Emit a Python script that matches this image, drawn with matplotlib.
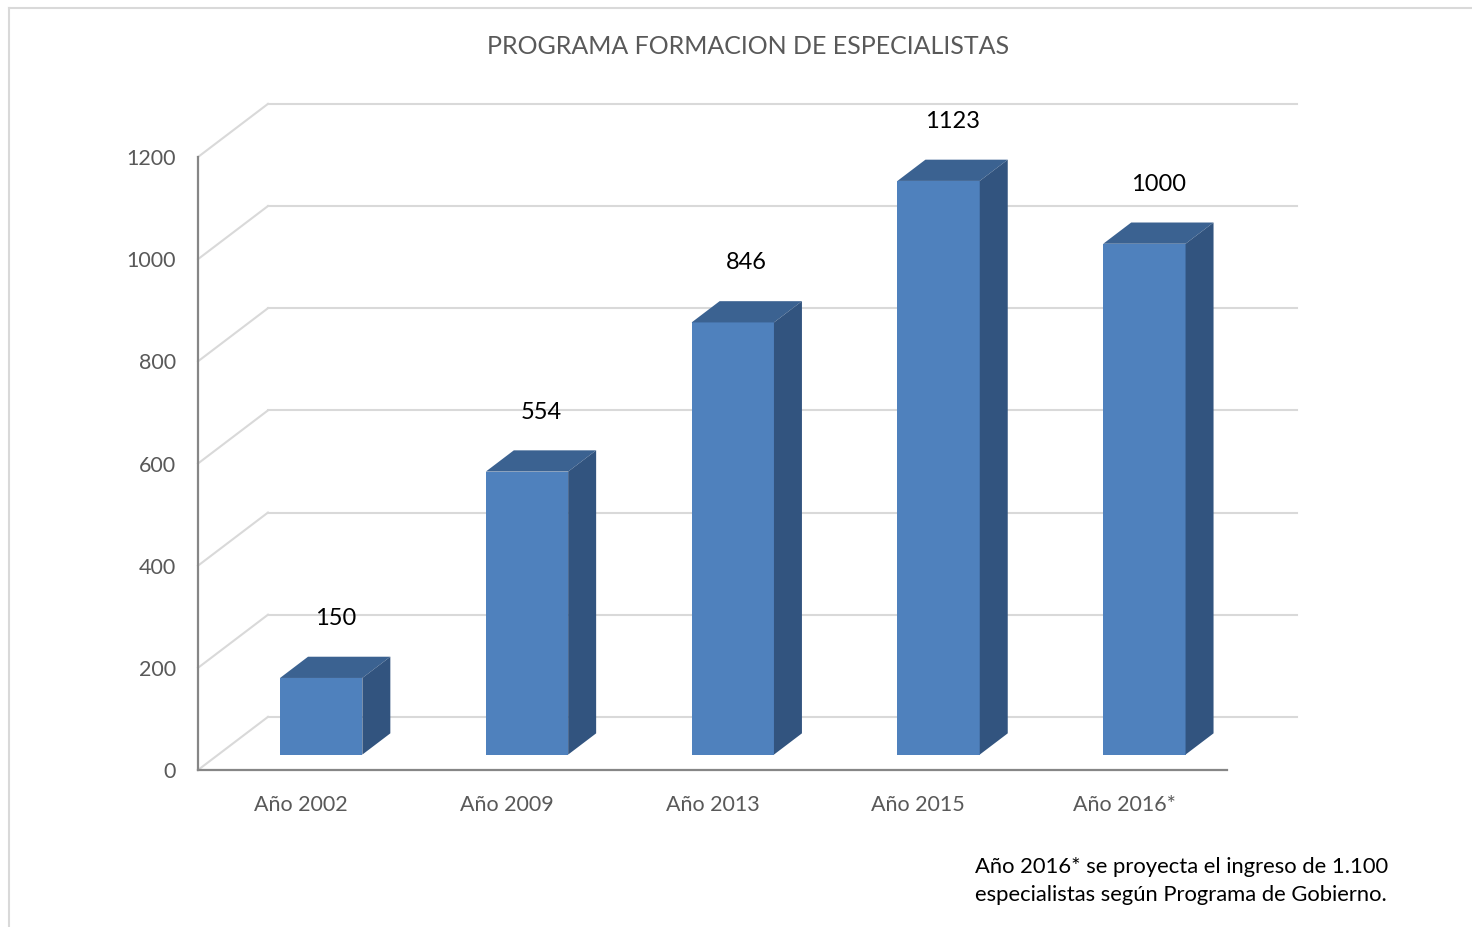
import numpy as np
import matplotlib
matplotlib.use('Agg')
import matplotlib.pyplot as plt
from matplotlib.patches import Polygon
from matplotlib.lines import Line2D

# ---------------- data ----------------
categories = ['Año 2002', 'Año 2009', 'Año 2013', 'Año 2015', 'Año 2016*']
values = [150, 554, 846, 1123, 1000]
yticks = [0, 200, 400, 600, 800, 1000, 1200]
title = 'PROGRAMA FORMACION DE ESPECIALISTAS'
note = 'Año 2016* se proyecta el ingreso de 1.100\nespecialistas según Programa de Gobierno.'

# ---------------- style ----------------
plt.rcParams['font.family'] = ['Lato', 'DejaVu Sans']
c_front, c_side, c_top = '#4F81BD', '#32547F', '#3B6291'
c_grid, c_axis, c_text = '#D9D9D9', '#868686', '#595959'
dx, dy = 0.34, 104.0       # depth of the floor (oblique projection, data units)
f0, f1 = 0.29, 0.69        # bar depth start/end as fraction of floor depth
bw = 0.40                  # bar width
ymax = yticks[-1]

fig = plt.figure(figsize=(14.72, 9.27), dpi=100)
ax = fig.add_axes([198/1472, 157/927, 1029/1472, 613/927])
x = np.arange(len(categories))
ax.set_xlim(-0.5, len(categories) - 0.5)
ax.set_ylim(0, ymax)
x0, x1 = -0.5, len(categories) - 0.5

# back wall and side wall grid
for t in yticks:
    ax.plot([x0 + dx, x1 + dx], [t + dy, t + dy], color=c_grid, lw=1.5,
            clip_on=False, zorder=1)
    ax.plot([x0, x0 + dx], [t, t + dy], color=c_grid, lw=1.5,
            clip_on=False, zorder=1)

# front axis lines
ax.plot([x0, x0], [0, ymax], color=c_axis, lw=1.6, clip_on=False, zorder=2)
ax.plot([x0, x1], [0, 0], color=c_axis, lw=1.6, clip_on=False, zorder=2)

# bars: front face through ax.bar, top and side from the same data
ox, oy = f0 * dx, f0 * dy
ddx, ddy = (f1 - f0) * dx, (f1 - f0) * dy
ax.bar(x + ox, values, width=bw, bottom=oy, color=c_front, zorder=3,
       clip_on=False)
for xi, v in zip(x, values):
    l, r = xi + ox - bw / 2, xi + ox + bw / 2
    b, t = oy, oy + v
    top = Polygon([(l, t), (r, t), (r + ddx, t + ddy), (l + ddx, t + ddy)],
                  closed=True, fc=c_top, ec='none', zorder=3, clip_on=False)
    side = Polygon([(r, b), (r + ddx, b + ddy), (r + ddx, t + ddy), (r, t)],
                   closed=True, fc=c_side, ec='none', zorder=3, clip_on=False)
    ax.add_patch(top)
    ax.add_patch(side)
    ax.text(xi + ox + ddx / 2, t + ddy + 75, f'{v}', ha='center',
            va='center', fontsize=17, color='black', zorder=4)

# axes ticks
for s in ax.spines.values():
    s.set_visible(False)
ax.set_xticks(x)
ax.set_xticklabels(categories)
ax.set_yticks(yticks)
ax.tick_params(axis='both', length=0, colors=c_text, labelsize=15.5)
ax.tick_params(axis='y', pad=16)
ax.tick_params(axis='x', pad=18)
ax.patch.set_visible(False)

fig.text(748/1472, 1 - 47/927, title, ha='center', va='center',
         fontsize=18, color=c_text)
fig.text(975/1472, 1 - 881/927, note, ha='left', va='center',
         fontsize=15.8, color='black', linespacing=1.45)

# chart frame (only top and left edges visible)
fig.add_artist(Line2D([8.5/1472, 1], [1 - 7.5/927] * 2, color=c_grid, lw=1.5,
                      transform=fig.transFigure))
fig.add_artist(Line2D([8.5/1472] * 2, [0, 1 - 7.5/927], color=c_grid, lw=1.5,
                      transform=fig.transFigure))

plt.savefig('out.png', dpi=100)
